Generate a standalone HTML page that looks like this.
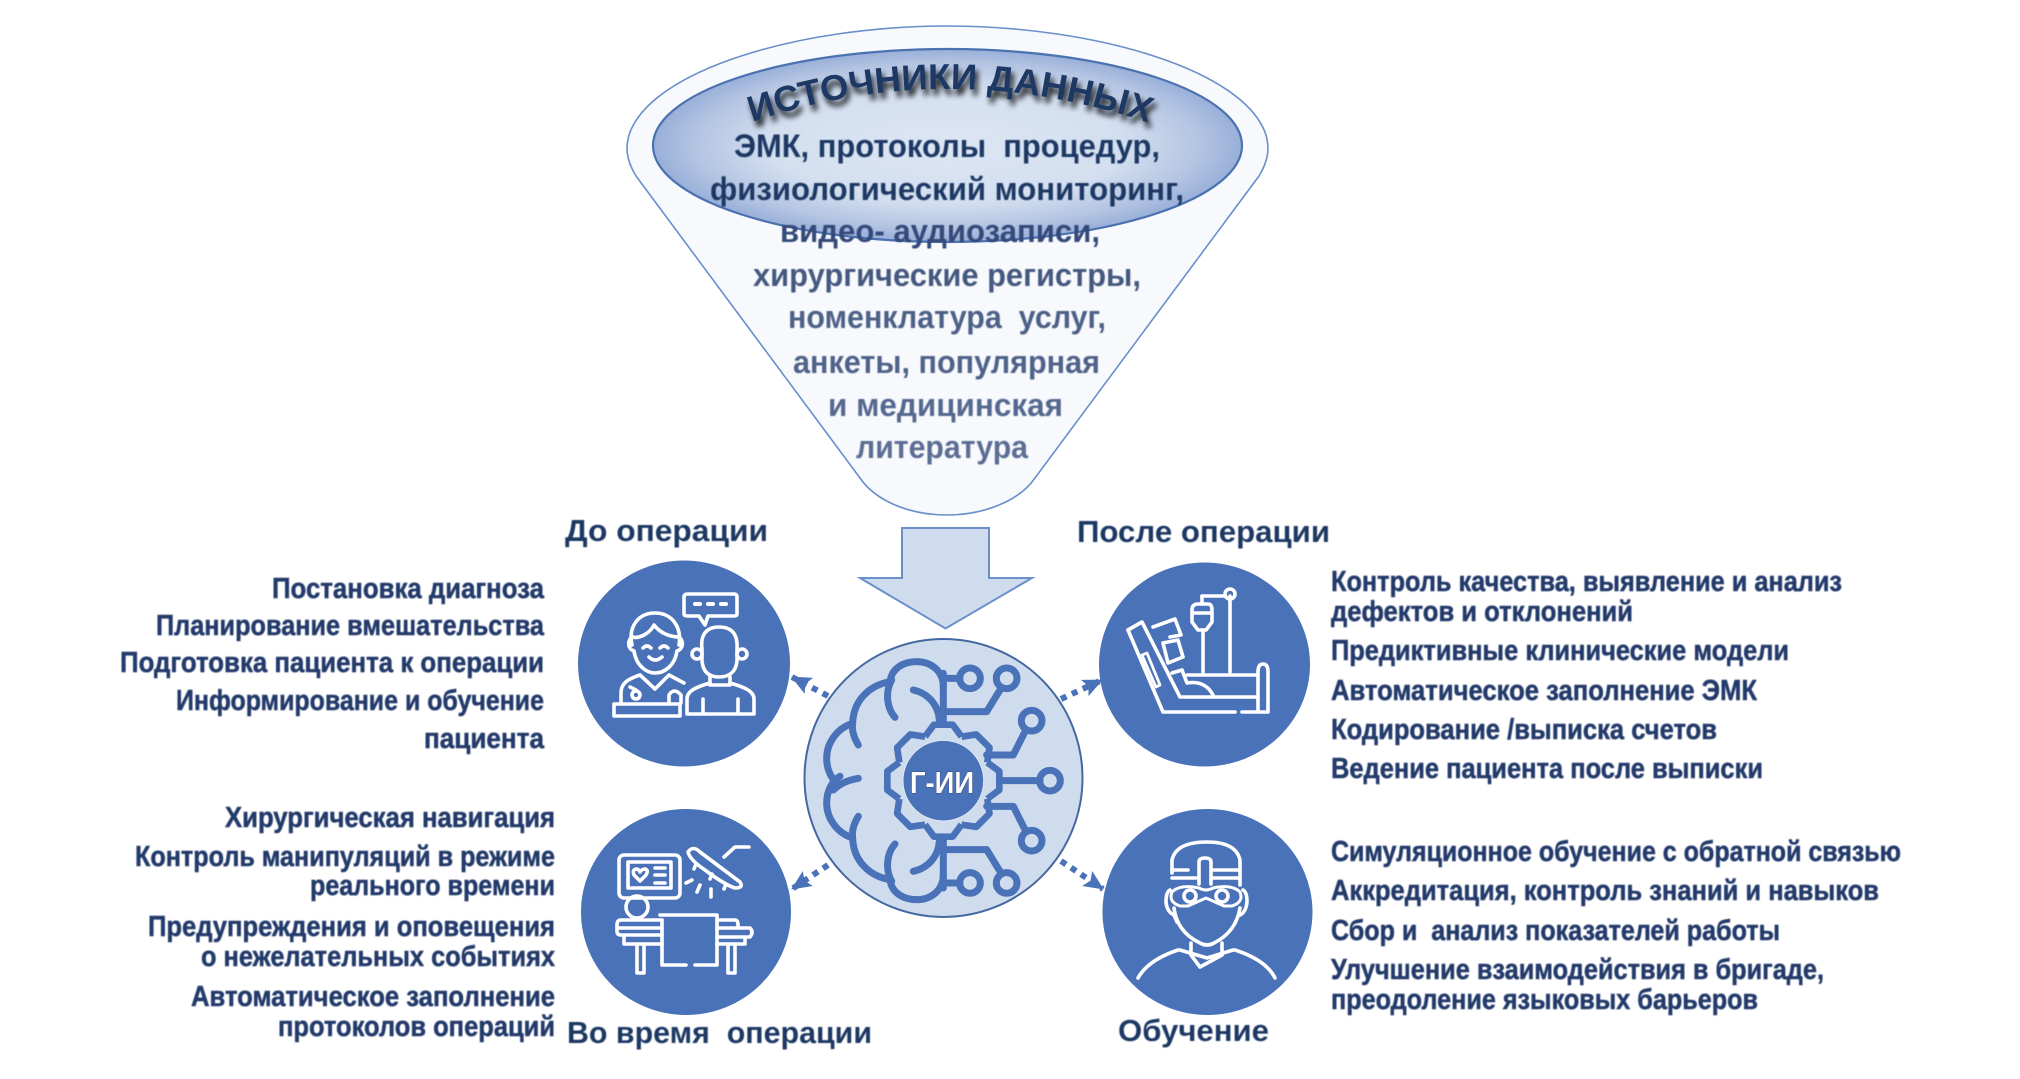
<!DOCTYPE html>
<html lang="ru"><head><meta charset="utf-8"><title>Источники данных</title>
<style>
html,body{margin:0;padding:0;background:#fff;width:2020px;height:1079px;overflow:hidden}
svg{display:block}
text{font-family:"Liberation Sans","DejaVu Sans",sans-serif;font-weight:700;white-space:pre}
.l{font-size:29px;fill:#243a6b;stroke:#243a6b;stroke-width:.5}
.h{font-size:31px;fill:#1f3864}
.f{font-size:32px}
.i{fill:none;stroke:#fff;stroke-width:3.6;stroke-linecap:round;stroke-linejoin:round}
</style></head><body>
<svg width="2020" height="1079" viewBox="0 0 2020 1079" xmlns="http://www.w3.org/2000/svg">
<defs>
<radialGradient id="g" cx="50%" cy="50%" r="50%"><stop offset="0" stop-color="#dde6f3"/><stop offset=".6" stop-color="#d3dff0"/><stop offset=".86" stop-color="#b3c4e2"/><stop offset="1" stop-color="#98afd8"/></radialGradient>
<filter id="s" x="-10%" y="-40%" width="120%" height="190%"><feGaussianBlur in="SourceAlpha" stdDeviation="3"/><feOffset dx="3" dy="6"/><feComponentTransfer><feFuncA type="linear" slope=".85"/></feComponentTransfer><feMerge><feMergeNode/><feMergeNode in="SourceGraphic"/></feMerge></filter>
<filter id="w" x="-5%" y="-5%" width="110%" height="110%"><feGaussianBlur stdDeviation=".45"/></filter>
<marker id="a" markerUnits="userSpaceOnUse" markerWidth="22" markerHeight="20" refX="19" refY="10" orient="auto"><path d="M0,1 L20,10 L0,19 L4,10Z" fill="#4a72b8"/></marker>
<path id="arc" d="M752,122 Q947,56 1146,122"/>
<path id="t" d="M-54.7,-132 L-28,-168 L28,-168 L54.7,-132" />
<g id="halfbrain" fill="none" stroke="#4a72b8" stroke-width="21" stroke-linecap="round" stroke-linejoin="round">
<path d="M460,170 C460,120 420,95 380,95 C340,95 305,115 300,155 C240,165 190,210 188,280 C140,295 110,340 110,385 C110,425 130,455 150,465"/>
<path d="M315,262 C290,235 285,185 305,150"/>
<path d="M370,180 C415,190 445,225 448,270"/>
<path d="M205,345 C190,320 185,300 188,280"/>
<path d="M460,130 V275"/>
<path d="M460,145 H510"/><path d="M460,245 H590 L630,180"/><path d="M590,375 H670 L705,305"/>
<circle cx="540" cy="145" r="31"/><circle cx="650" cy="145" r="31"/><circle cx="725" cy="272" r="31"/>
</g>
</defs>
<rect width="2020" height="1079" fill="#fff"/>

<!-- funnel -->
<path d="M636,176 C625,158 626,146 629,135 C650,70 800,26 947,26 C1095,26 1245,70 1266,135 C1269,146 1270,158 1259,176 L1035,478 C1020,500 985,515 947,515 C908,515 875,500 860,478 Z" fill="#f7f9fc" stroke="#6a8fca" stroke-width="1.600"/>
<ellipse cx="947.500" cy="145.500" rx="294.500" ry="96.500" fill="url(#g)" stroke="#4a72b0" stroke-width="2.200"/>
<text filter="url(#s)" font-size="36" fill="#1f3864"><textPath href="#arc" startOffset="0" textLength="404" lengthAdjust="spacingAndGlyphs">ИСТОЧНИКИ ДАННЫХ</textPath></text>
<g class="f" filter="url(#w)">
<text x="734" y="157" textLength="426" lengthAdjust="spacingAndGlyphs" fill="#1f3864">ЭМК, протоколы  процедур,</text>
<text x="710" y="200" textLength="474" lengthAdjust="spacingAndGlyphs" fill="#1f3864">физиологический мониторинг,</text>
<text x="780" y="242" textLength="320" lengthAdjust="spacingAndGlyphs" fill="#35497a">видео- аудиозаписи,</text>
<text x="753" y="286" textLength="388" lengthAdjust="spacingAndGlyphs" fill="#44587f">хирургические регистры,</text>
<text x="788" y="328" textLength="318" lengthAdjust="spacingAndGlyphs" fill="#4d6087">номенклатура  услуг,</text>
<text x="793" y="373" textLength="307" lengthAdjust="spacingAndGlyphs" fill="#4f6289">анкеты, популярная</text>
<text x="828" y="416" textLength="235" lengthAdjust="spacingAndGlyphs" fill="#556890">и медицинская</text>
<text x="856" y="458" textLength="172" lengthAdjust="spacingAndGlyphs" fill="#5b6d94">литература</text>
</g>

<!-- big arrow -->
<path d="M902,528 H989 V578 H1032 L945.500,628.500 L860,578 H902 Z" fill="#cfdcee" stroke="#6a8fca" stroke-width="2"/>

<!-- blue circles -->
<ellipse cx="684" cy="663.500" rx="106" ry="103" fill="#4a72b8"/>
<ellipse cx="1204.500" cy="664.500" rx="105.500" ry="102" fill="#4a72b8"/>
<ellipse cx="686" cy="912" rx="105" ry="103" fill="#4a72b8"/>
<ellipse cx="1207.500" cy="912" rx="105" ry="103" fill="#4a72b8"/>

<!-- dotted arrows -->
<g stroke="#4a72b8" stroke-width="6" stroke-dasharray="6 6" fill="none">
<line x1="828" y1="696" x2="792" y2="677" marker-end="url(#a)"/>
<line x1="1061" y1="699" x2="1102" y2="680" marker-end="url(#a)"/>
<line x1="828" y1="865" x2="792" y2="889" marker-end="url(#a)"/>
<line x1="1061" y1="861" x2="1103" y2="889" marker-end="url(#a)"/>
</g>

<!-- centre -->
<circle cx="943.500" cy="778" r="139" fill="#cfdcee" stroke="#44689f" stroke-width="2"/>
<g transform="translate(790,630) scale(.3333)" filter="url(#w)">
<use href="#halfbrain"/>
<use href="#halfbrain" transform="translate(0,904) scale(1,-1)"/>
<path d="M205,445 C175,450 150,460 130,480" fill="none" stroke="#4a72b8" stroke-width="21" stroke-linecap="round"/>
<g fill="none" stroke="#4a72b8" stroke-width="21" stroke-linecap="round" stroke-linejoin="round">
<path d="M630,452 H750"/><circle cx="780" cy="452" r="31"/>
</g>
<g transform="translate(460,452)" fill="none" stroke="#4a72b8" stroke-width="20" stroke-linejoin="round">
<use href="#t"/><use href="#t" transform="rotate(45)"/><use href="#t" transform="rotate(90)"/><use href="#t" transform="rotate(135)"/><use href="#t" transform="rotate(180)"/><use href="#t" transform="rotate(225)"/><use href="#t" transform="rotate(270)"/><use href="#t" transform="rotate(315)"/>
</g>
<circle cx="460" cy="452" r="121" fill="#4a72b8" stroke="#dfe7f3" stroke-width="3"/>
</g>
<text x="910" y="793" font-size="31" fill="#fff" textLength="64" lengthAdjust="spacingAndGlyphs" style="paint-order:stroke" stroke="#3a3f66" stroke-width=".8">Г-ИИ</text>

<!-- TL icon -->
<g class="i" transform="translate(0,-3)">
<path d="M632,648 C628,630 638,616 655,616 C672,616 682,630 679,648"/>
<path d="M632,640 C640,642 650,636 654,628 C660,636 670,640 679,640"/>
<path d="M633,640 C627,642 627,652 634,654 C636,668 646,676 655,676 C665,676 675,668 677,654 C684,652 684,642 678,640"/>
<path d="M643,651 q4,-4 8,0 M660,651 q4,-4 8,0"/><path d="M649,660 q6,6 13,0"/>
<path d="M621,706 V696 C621,686 628,682 640,678 M669,678 L684,686 M640,678 L655,692 L669,678"/>
<circle cx="636" cy="698" r="4"/><path d="M630,690 L636,693 M669,706 V698 Q674,690 681,698 V706"/>
<path d="M614,707 H680 V719 H614 Z"/>
<path d="M702,652 C700,636 708,630 719,630 C731,630 738,636 737,652 V664 C736,675 729,680 719,680 C709,680 703,675 702,664 Z"/>
<circle cx="697" cy="657" r="5"/><circle cx="742" cy="657" r="5"/>
<path d="M710,680 V688 H730 V680"/><path d="M687,717 V702 C687,694 696,690 710,686 M730,686 C744,690 754,694 754,702 V717 H687 M703,702 V717 M738,702 V717"/>
<path d="M688,597 H734 Q737,597 737,600 V617 Q737,619 734,619 H708 L705,628 L699,619 H688 Q684,619 684,617 V600 Q684,597 688,597Z"/>
<path d="M695,607 H700 M708,607 H713 M721,607 H726" stroke-width="4"/>
</g>

<!-- TR icon -->
<g class="i">
<path d="M1128,630 L1163,712 H1235 M1242,712 H1268 V672 Q1268,664 1263,664 Q1258,664 1258,672 V712"/>
<path d="M1128,630 L1142,622 L1180,697 H1257"/>
<path d="M1187,675 H1257"/>
<path d="M1142,655 L1147,653 L1160,685 L1156,687 Z" stroke-width="2.800"/>
<path d="M1153,627 L1175,619 L1181,635 L1170,637"/>
<path d="M1163,643 L1178,640 L1183,657 L1168,663 Z"/>
<path d="M1172,673 L1182,670 L1187,683 Q1205,680 1213,695"/>
<path d="M1230,672 V596 M1202,596 H1225"/><circle cx="1230" cy="594" r="5"/>
<path d="M1192,610 Q1192,604 1198,604 H1208 Q1212,604 1212,610 V622 L1206,630 H1198 L1192,622 Z M1192,613 H1212"/>
<path d="M1202,596 V604 M1203,630 V672"/>
</g>

<!-- BL icon -->
<g class="i">
<rect x="619" y="855" width="61" height="43" rx="5"/>
<rect x="628" y="862" width="43" height="26"/>
<path d="M640,881 L634,875 Q632,870 636,869 Q639,869 640,872 Q642,869 645,869 Q649,870 646,875 Z"/>
<path d="M655,868 H665 M655,875 H665 M655,883 H665"/>
<path d="M688,852 Q693,845 700,852 L740,882 Q744,888 735,888 Q725,885 705,870 Q690,860 688,852 Z"/>
<path d="M696,864 l-2,5 M712,874 l-2,5 M726,884 l-2,5"/>
<path d="M724,857 L735,847 H749"/>
<path d="M692,880 l-6,3 M700,885 l-3,7 M711,889 l0,8"/>
<circle cx="637" cy="907" r="11"/>
<path d="M660,915 H717 V965 H695 M686,965 H662 V920"/>
<path d="M662,920 H621 Q617,920 617,925 V928 H662 M662,935 H621 Q617,935 617,931 V928 M717,920 H735 Q738,920 738,925 V928 H717 M717,928 H750 Q754,932 750,937 H717 M624,937 V944 H662 M717,944 H745 V937"/>
<path d="M637,944 V973 H644 V944 M728,944 V973 H735 V944"/>
</g>

<!-- BR icon -->
<g class="i">
<path d="M1172,873 V860 Q1176,842 1207,842 Q1236,842 1240,860 V885"/>
<path d="M1172,870 H1188 M1214,870 H1240 M1172,878 H1196 M1212,878 H1240"/>
<path d="M1199,884 V862 Q1199,858 1205,858 Q1211,858 1211,862 V884"/>
<circle cx="1190" cy="896" r="6"/><circle cx="1222" cy="896" r="6"/>
<path d="M1172,892 Q1180,884 1199,888 Q1206,892 1213,888 Q1232,884 1240,892 Q1244,902 1232,906 H1224 L1206,898 L1188,906 H1180 Q1168,902 1172,892 Z" stroke-width="3"/>
<path d="M1170,890 Q1166,892 1166,902 Q1167,912 1174,915 L1177,922 M1243,890 Q1247,892 1247,902 Q1246,912 1240,915"/>
<path d="M1174,908 Q1177,932 1200,943 Q1207,947 1214,943 Q1236,932 1240,908"/>
<path d="M1191,943 V952 M1222,943 V952 M1180,950 L1207,958 L1233,950 M1191,955 L1200,967 L1222,955"/>
<path d="M1138,978 Q1148,960 1178,950 M1235,950 Q1266,960 1275,978"/>
</g>

<!-- headings -->
<g filter="url(#w)">
<text class="h" x="565" y="541" textLength="203" lengthAdjust="spacingAndGlyphs">До операции</text>
<text class="h" x="1077" y="542" textLength="253" lengthAdjust="spacingAndGlyphs">После операции</text>
<text class="h" x="567" y="1043" textLength="305" lengthAdjust="spacingAndGlyphs">Во время  операции</text>
<text class="h" x="1118" y="1041" textLength="151" lengthAdjust="spacingAndGlyphs">Обучение</text>
</g>

<!-- lists -->
<g class="l" filter="url(#w)">
<text x="272" y="598" textLength="272" lengthAdjust="spacingAndGlyphs">Постановка диагноза</text>
<text x="156" y="635" textLength="388" lengthAdjust="spacingAndGlyphs">Планирование вмешательства</text>
<text x="120" y="672" textLength="424" lengthAdjust="spacingAndGlyphs">Подготовка пациента к операции</text>
<text x="176" y="710" textLength="368" lengthAdjust="spacingAndGlyphs">Информирование и обучение</text>
<text x="424" y="748" textLength="120" lengthAdjust="spacingAndGlyphs">пациента</text>

<text x="225" y="827" textLength="330" lengthAdjust="spacingAndGlyphs">Хирургическая навигация</text>
<text x="135" y="866" textLength="420" lengthAdjust="spacingAndGlyphs">Контроль манипуляций в режиме</text>
<text x="310" y="895" textLength="245" lengthAdjust="spacingAndGlyphs">реального времени</text>
<text x="148" y="936" textLength="407" lengthAdjust="spacingAndGlyphs">Предупреждения и оповещения</text>
<text x="201" y="966" textLength="354" lengthAdjust="spacingAndGlyphs">о нежелательных событиях</text>
<text x="191" y="1006" textLength="364" lengthAdjust="spacingAndGlyphs">Автоматическое заполнение</text>
<text x="278" y="1036" textLength="277" lengthAdjust="spacingAndGlyphs">протоколов операций</text>

<text x="1331" y="591" textLength="511" lengthAdjust="spacingAndGlyphs">Контроль качества, выявление и анализ</text>
<text x="1331" y="621" textLength="302" lengthAdjust="spacingAndGlyphs">дефектов и отклонений</text>
<text x="1331" y="660" textLength="458" lengthAdjust="spacingAndGlyphs">Предиктивные клинические модели</text>
<text x="1331" y="700" textLength="426" lengthAdjust="spacingAndGlyphs">Автоматическое заполнение ЭМК</text>
<text x="1331" y="739" textLength="386" lengthAdjust="spacingAndGlyphs">Кодирование /выписка счетов</text>
<text x="1331" y="778" textLength="432" lengthAdjust="spacingAndGlyphs">Ведение пациента после выписки</text>

<text x="1331" y="861" textLength="570" lengthAdjust="spacingAndGlyphs">Симуляционное обучение с обратной связью</text>
<text x="1331" y="900" textLength="548" lengthAdjust="spacingAndGlyphs">Аккредитация, контроль знаний и навыков</text>
<text x="1331" y="940" textLength="449" lengthAdjust="spacingAndGlyphs">Сбор и  анализ показателей работы</text>
<text x="1331" y="979" textLength="493" lengthAdjust="spacingAndGlyphs">Улучшение взаимодействия в бригаде,</text>
<text x="1331" y="1009" textLength="427" lengthAdjust="spacingAndGlyphs">преодоление языковых барьеров</text>
</g>
</svg>
</body></html>
